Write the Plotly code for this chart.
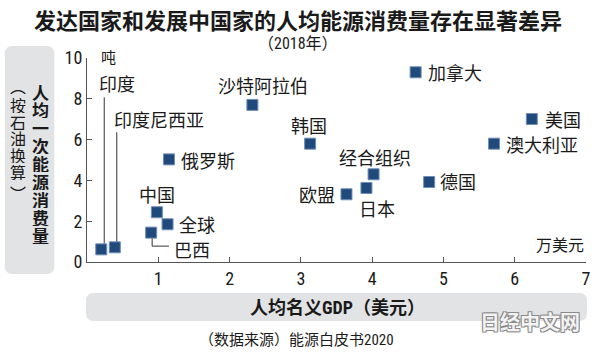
import plotly.graph_objects as go

# ---------------- data ----------------
countries = ["印度", "印度尼西亚", "俄罗斯", "中国", "全球", "巴西", "沙特阿拉伯",
             "加拿大", "美国", "澳大利亚", "韩国", "经合组织", "日本", "欧盟", "德国"]
gdp_per_capita = [0.20, 0.39, 1.15, 0.98, 1.13, 0.90, 2.32,
                  4.61, 6.24, 5.71, 3.13, 4.02, 3.92, 3.64, 4.80]   # 万美元
energy_per_capita = [0.62, 0.72, 5.03, 2.44, 1.85, 1.44, 7.70,
                     9.30, 7.01, 5.80, 5.80, 4.30, 3.63, 3.32, 3.92]  # 吨(石油换算)
x_ticks = [1, 2, 3, 4, 5, 6, 7]
y_ticks = [0, 2, 4, 6, 8, 10]

title = "发达国家和发展中国家的人均能源消费量存在显著差异"
subtitle = "（2018年）"
y_title_main = "人均一次能源消费量"
y_title_sub = "︵按石油换算︶"
x_title = "人均名义GDP（美元）"
source = "（数据来源）能源白皮书2020"
y_unit = "吨"
x_unit = "万美元"
watermark = "日经中文网"

# ---------------- layout geometry (pixels) ----------------
W, H = 600, 353
L, R, T, B = 87, 9, 58, 91
PW, PH = W - L - R, H - T - B
XR, YR = (0, 7), (0, 10)
ux = (XR[1] - XR[0]) / PW
uy = (YR[1] - YR[0]) / PH


def px(p):
    return (p - L) / PW


def py(p):
    return (H - B - p) / PH


CJK = "Noto Sans CJK SC"
NUM = "Liberation Sans Narrow, Roboto Condensed, Noto Sans CJK SC"
DARK = "#1a1a1a"

fig = go.Figure()
fig.add_trace(go.Scatter(
    x=gdp_per_capita, y=energy_per_capita, mode="markers",
    marker=dict(symbol="square", size=11, color="#20497c",
                line=dict(width=1, color="#6f8fb5")),
    hoverinfo="text", text=countries,
))

# label offsets (pixels): anchor, xshift, yshift
label_style = {
    "印度": ("left", -4, 166),
    "印度尼西亚": ("left", -3, 128),
    "俄罗斯": ("left", 10, -1),
    "中国": ("center", 0, 18),
    "全球": ("left", 9, 0),
    "巴西": ("left", 21, -16),
    "沙特阿拉伯": ("center", 11, 20),
    "加拿大": ("left", 10, 0),
    "美国": ("left", 11, 0),
    "澳大利亚": ("left", 10, 0),
    "韩国": ("center", -1, 19),
    "经合组织": ("center", 1, 17),
    "日本": ("center", 11, -20),
    "欧盟": ("right", -9, 0),
    "德国": ("left", 9, 1),
}

annotations = []
for name, gx, ey in zip(countries, gdp_per_capita, energy_per_capita):
    anc, dx, dy = label_style[name]
    annotations.append(dict(
        x=gx, y=ey, xref="x", yref="y", text=name, showarrow=False,
        xanchor=anc, yanchor="middle", xshift=dx, yshift=dy,
        font=dict(family=CJK, size=18, color=DARK)))

# leader lines
shapes = []
idx = {n: i for i, n in enumerate(countries)}
line_style = dict(color="#333333", width=1)
i = idx["印度"]
shapes.append(dict(type="line", xref="x", yref="y",
                   x0=gdp_per_capita[i] + 3 * ux, x1=gdp_per_capita[i] + 3 * ux,
                   y0=energy_per_capita[i] + 6 * uy, y1=energy_per_capita[i] + 152 * uy,
                   line=line_style))
i = idx["印度尼西亚"]
shapes.append(dict(type="line", xref="x", yref="y",
                   x0=gdp_per_capita[i] + 2 * ux, x1=gdp_per_capita[i] + 2 * ux,
                   y0=energy_per_capita[i] + 6 * uy, y1=energy_per_capita[i] + 115 * uy,
                   line=line_style))
i = idx["巴西"]
bx = gdp_per_capita[i] + 1 * ux
shapes.append(dict(type="path", xref="x", yref="y",
                   path=f"M {bx} {energy_per_capita[i] - 6 * uy} "
                        f"L {bx} {energy_per_capita[i] - 13.5 * uy} "
                        f"L {gdp_per_capita[i] + 18 * ux} {energy_per_capita[i] - 13.5 * uy}",
                   line=line_style))


def rounded_box(x0, y0, x1, y1, r):
    # pixel coords -> paper path
    pts = [
        f"M {px(x0 + r)} {py(y0)}",
        f"L {px(x1 - r)} {py(y0)}",
        f"Q {px(x1)} {py(y0)} {px(x1)} {py(y0 + r)}",
        f"L {px(x1)} {py(y1 - r)}",
        f"Q {px(x1)} {py(y1)} {px(x1 - r)} {py(y1)}",
        f"L {px(x0 + r)} {py(y1)}",
        f"Q {px(x0)} {py(y1)} {px(x0)} {py(y1 - r)}",
        f"L {px(x0)} {py(y0 + r)}",
        f"Q {px(x0)} {py(y0)} {px(x0 + r)} {py(y0)} Z",
    ]
    return dict(type="path", xref="paper", yref="paper", path=" ".join(pts),
                fillcolor="#e2e3e5", line=dict(width=0), layer="below")


shapes.append(rounded_box(4, 46, 54, 274, 8))
shapes.append(rounded_box(86, 293, 592, 321, 8))

# vertical y-axis title, one glyph per annotation
main_centers = [92 + k * 17.9 for k in range(len(y_title_main))]
for ch, cy in zip(y_title_main, main_centers):
    annotations.append(dict(x=px(40), y=py(cy), xref="paper", yref="paper", text=ch,
                            showarrow=False, xanchor="center", yanchor="middle",
                            height=17, borderpad=0,
                            font=dict(family=CJK, size=17, color=DARK, weight="bold")))
sub_centers = [86, 105, 122, 138, 155, 172, 193]
for ch, cy in zip(y_title_sub, sub_centers):
    annotations.append(dict(x=px(17), y=py(cy), xref="paper", yref="paper", text=ch,
                            showarrow=False, xanchor="center", yanchor="middle",
                            height=16, borderpad=0,
                            font=dict(family=CJK, size=16, color=DARK)))

# titles and other text
texts = [
    (title, 300, 19, "center", dict(family=CJK, size=22, color=DARK, weight="bold")),
    (subtitle, 300, 43, "center", dict(family=NUM, size=16, color=DARK)),
    (x_title, 340, 307, "center", dict(family=NUM, size=18, color=DARK, weight="bold")),
    (source, 299, 340, "center", dict(family=NUM, size=15, color=DARK)),
    (y_unit, 99, 56, "left", dict(family=CJK, size=15, color=DARK)),
    (x_unit, 591, 244, "right", dict(family=CJK, size=16, color=DARK)),
]
for t, x, y, anc, f in texts:
    annotations.append(dict(x=px(x), y=py(y), xref="paper", yref="paper", text=t,
                            showarrow=False, xanchor=anc, yanchor="middle", font=f))

annotations.append(dict(
    x=px(534), y=py(321), xref="paper", yref="paper", text=watermark, showarrow=False,
    xanchor="center", yanchor="middle",
    font=dict(family=CJK, size=20, color="#f2f2f2", weight="bold",
              shadow="1px 1px 0 #8a8a8a, -1px -1px 0 #8a8a8a, 1px -1px 0 #8a8a8a, -1px 1px 0 #8a8a8a")))

fig.update_layout(
    width=W, height=H, margin=dict(l=L, r=R, t=T, b=B),
    paper_bgcolor="white", plot_bgcolor="white", showlegend=False,
    xaxis=dict(range=list(XR), tickvals=x_ticks, ticks="inside", ticklen=5,
               tickcolor="#555555", showline=True, linecolor="#555555", linewidth=1,
               showgrid=False, zeroline=False, fixedrange=True,
               tickfont=dict(family=NUM, size=18, color=DARK)),
    yaxis=dict(range=list(YR), tickvals=y_ticks, ticks="inside", ticklen=5,
               tickcolor="#555555", showline=True, linecolor="#555555", linewidth=1,
               showgrid=False, zeroline=False, fixedrange=True,
               tickfont=dict(family=NUM, size=18, color=DARK)),
    annotations=annotations, shapes=shapes,
)

fig.write_html("out.html")
